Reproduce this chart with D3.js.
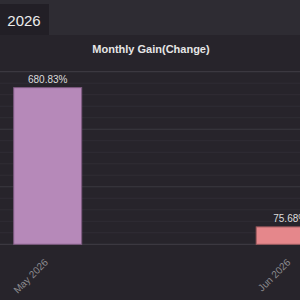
<!DOCTYPE html>
<html>
<head>
<meta charset="utf-8">
<script src="https://cdn.jsdelivr.net/npm/d3@7"></script>
<style>
  html, body { margin: 0; padding: 0; background: #27242b; overflow: hidden; }
  svg { display: block; font-family: "Liberation Sans", Arial, sans-serif; }
</style>
</head>
<body>
<svg id="chart" width="300" height="300"></svg>
<script>
const months = ["May 2026", "Jun 2026"]
const gains = [680.83, 75.68]
const barColors = ["#b689b9", "#e5878b"]
const barStrokes = ["#7d5a80", "#9c5a5e"]
const majorTicks = [0, 250, 500, 750]
const yearTab = "2026"
const title = "Monthly Gain(Change)"

const svg = d3.select("#chart")
const W = 300, H = 300

// tab strip
svg.append("rect").attr("x", 0).attr("y", 0).attr("width", W).attr("height", 35).attr("fill", "#2e2c33")
svg.append("rect").attr("x", 0).attr("y", 4).attr("width", 49).attr("height", 31).attr("fill", "#221f26")
svg.append("text").attr("x", 24).attr("y", 26).attr("text-anchor", "middle")
  .attr("fill", "#ececec").style("font-size", "15px").text(yearTab)

svg.append("text").attr("x", 151).attr("y", 53).attr("text-anchor", "middle")
  .attr("fill", "#e6e6e6").style("font-size", "11px").style("font-weight", "bold").text(title)

const y = d3.scaleLinear().domain([0, 750]).range([244.3, 71.7])
const x = d3.scalePoint().domain(months).range([47.7, 290.2])
const barW = 68

// minor grid every 50, major every 250
const g = svg.append("g")
g.selectAll("line.minor")
  .data(d3.range(0, 751, 50).filter(v => !majorTicks.includes(v)))
  .enter().append("line")
  .attr("x1", 0).attr("x2", W)
  .attr("y1", d => y(d)).attr("y2", d => y(d))
  .attr("stroke", "#302d35").attr("stroke-width", 1)
g.selectAll("line.major")
  .data(majorTicks)
  .enter().append("line")
  .attr("x1", 0).attr("x2", W)
  .attr("y1", d => y(d)).attr("y2", d => y(d))
  .attr("stroke", "#3b3840").attr("stroke-width", 1.2)

svg.selectAll("rect.bar")
  .data(gains)
  .enter().append("rect")
  .attr("class", "bar")
  .attr("x", (d, i) => x(months[i]) - barW / 2)
  .attr("y", d => y(d))
  .attr("width", barW)
  .attr("height", d => y(0) - y(d))
  .attr("fill", (d, i) => barColors[i])
  .attr("stroke", (d, i) => barStrokes[i])
  .attr("stroke-width", 1)

svg.selectAll("text.val")
  .data(gains)
  .enter().append("text")
  .attr("x", (d, i) => x(months[i]))
  .attr("y", d => y(d) - 4.5)
  .attr("text-anchor", "middle")
  .attr("fill", "#dcdcdc")
  .style("font-size", "10px")
  .text(d => d.toFixed(2) + "%")

svg.selectAll("text.month")
  .data(months)
  .enter().append("text")
  .attr("text-anchor", "end")
  .attr("transform", d => "translate(" + (x(d) + 1) + ",263) rotate(-45)")
  .attr("fill", "#8c8b8f")
  .style("font-size", "10px")
  .text(d => d)
</script>
</body>
</html>
